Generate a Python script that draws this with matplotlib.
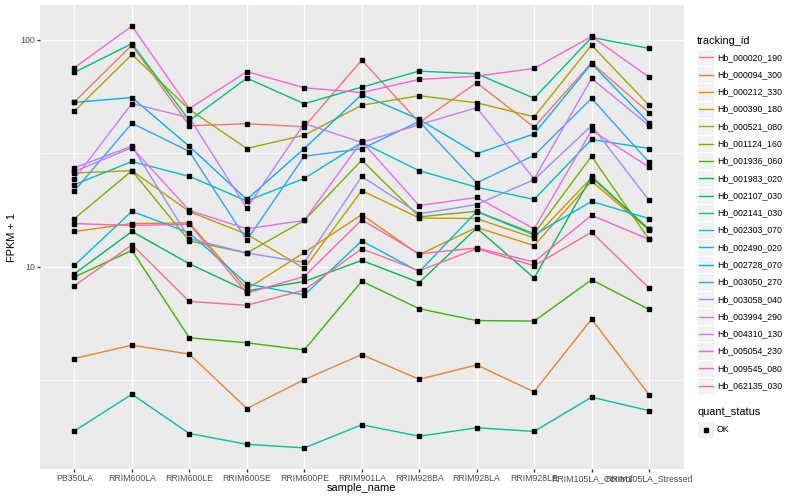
import matplotlib
matplotlib.use("Agg")
import matplotlib.pyplot as plt
import numpy as np
from matplotlib.patches import Rectangle

plt.rcParams['font.family'] = ['Liberation Sans', 'DejaVu Sans']

# samples on the x axis
samples = ["PB350LA", "RRIM600LA", "RRIM600LE", "RRIM600SE", "RRIM600PE", "RRIM901LA",
           "RRIM928BA", "RRIM928LA", "RRIM928LE", "RRIM105LA_Control", "RRIM105LA_Stressed"]

tracking_ids = ["Hb_000020_190", "Hb_000094_300", "Hb_000212_330", "Hb_000390_180",
                "Hb_000521_080", "Hb_001124_160", "Hb_001936_060", "Hb_001983_020",
                "Hb_002107_030", "Hb_002141_030", "Hb_002303_070", "Hb_002490_020",
                "Hb_002728_070", "Hb_003050_270", "Hb_003058_040", "Hb_003994_290",
                "Hb_004310_130", "Hb_005054_230", "Hb_009545_080", "Hb_062135_030"]

# FPKM per sample (plotted as FPKM + 1)
hb_000020_190 = [52.3, 93.8, 40.8, 41.7, 40.4, 80.4, 42.2, 63.7, 40.2, 78.3, 46.7]
hb_000094_300 = [2.94, 3.51, 3.12, 1.37, 2.18, 3.10, 2.19, 2.69, 1.81, 4.88, 1.73]
hb_000212_330 = [13.3, 14.5, 14.6, 6.97, 10.56, 15.97, 10.3, 13.9, 11.4, 22.8, 13.5]
hb_000390_180 = [24.9, 25.5, 16.5, 12.9, 8.83, 20.65, 15.4, 15.3, 12.4, 23.7, 13.6]
hb_000521_080 = [47.5, 85.3, 48.3, 32.2, 37.0, 50.5, 55.7, 51.8, 44.8, 93.8, 50.4]
hb_001124_160 = [15.3, 25.5, 12.0, 10.5, 15.0, 28.5, 15.6, 16.55, 13.0, 29.7, 12.2]
hb_001936_060 = [8.01, 10.8, 3.86, 3.62, 3.30, 7.63, 5.53, 4.79, 4.76, 7.76, 5.48]
hb_001983_020 = [8.31, 13.3, 9.3, 6.83, 7.61, 9.66, 7.52, 13.8, 7.92, 24.0, 13.6]
hb_002107_030 = [70.9, 95.2, 43.1, 66.8, 51.3, 60.9, 71.8, 69.9, 54.3, 101.5, 90.7]
hb_002141_030 = [0.89, 1.74, 0.84, 0.65, 0.59, 1.01, 0.79, 0.95, 0.88, 1.66, 1.32]
hb_002303_070 = [22.0, 28.1, 24.0, 18.5, 23.5, 34.3, 25.5, 21.4, 18.8, 35.4, 32.2]
hb_002490_020 = [9.15, 16.55, 13.1, 7.41, 6.5, 12.0, 8.5, 16.5, 12.8, 18.4, 15.3]
hb_002728_070 = [52.0, 54.7, 32.9, 18.8, 32.2, 56.4, 43.6, 30.5, 37.5, 77.5, 42.1]
hb_003050_270 = [20.6, 41.9, 31.2, 12.1, 29.7, 32.1, 42.7, 22.4, 30.0, 54.2, 27.9]
hb_003058_040 = [26.3, 33.0, 12.3, 10.5, 9.45, 24.0, 16.1, 17.8, 23.2, 40.9, 18.6]
hb_003994_290 = [23.4, 51.4, 44.3, 17.1, 41.8, 34.3, 41.3, 49.2, 23.4, 66.6, 40.9]
hb_004310_130 = [25.3, 32.5, 16.7, 13.7, 15.0, 34.7, 17.6, 19.2, 13.7, 38.9, 26.5]
hb_005054_230 = [74.4, 114.0, 48.8, 71.4, 60.5, 57.6, 65.9, 68.2, 73.8, 102.5, 67.5]
hb_009545_080 = [14.5, 14.2, 14.4, 6.65, 8.06, 15.1, 10.4, 11.1, 9.5, 15.85, 12.2]
hb_062135_030 = [7.24, 11.5, 6.03, 5.76, 6.89, 11.0, 8.6, 11.0, 9.1, 13.2, 7.05]

fpkm_rows = [hb_000020_190, hb_000094_300, hb_000212_330, hb_000390_180, hb_000521_080,
             hb_001124_160, hb_001936_060, hb_001983_020, hb_002107_030, hb_002141_030,
             hb_002303_070, hb_002490_020, hb_002728_070, hb_003050_270, hb_003058_040,
             hb_003994_290, hb_004310_130, hb_005054_230, hb_009545_080, hb_062135_030]

# ggplot default hue palette, 20 levels
palette = ["#F8766D", "#EA8331", "#D89000", "#C09B00", "#A3A500", "#7CAE00", "#39B600",
           "#00BB4E", "#00BF7D", "#00C1A3", "#00BFC4", "#00BAE0", "#00B0F6", "#35A2FF",
           "#9590FF", "#C77CFF", "#E76BF3", "#FA62DB", "#FF62BC", "#FF6C91"]

fig = plt.figure(figsize=(8, 5), dpi=100)
ax = fig.add_axes([0.05, 0.062, 0.8044, 0.928])
ax.set_facecolor("#EBEBEB")

x = np.arange(len(samples))
vals = np.array(fpkm_rows) + 1

for row, col in zip(vals, palette):
    ax.plot(x, row, color=col, lw=1.0, zorder=3)
for row in vals:
    ax.plot(x, row, ls="none", marker="s", ms=2.5, color="black", zorder=4)

ax.set_yscale("log")
lo, hi = np.log10(vals.min()), np.log10(vals.max())
pad = (hi - lo) * 0.05
ax.set_ylim(10 ** (lo - pad), 10 ** (hi + pad))
ax.set_xlim(-0.6, len(samples) - 0.4)

ax.set_yticks([10, 100])
ax.set_yticklabels(["10", "100"])
ax.set_yticks([10 ** 0.5, 10 ** 1.5], minor=True)
ax.yaxis.set_minor_formatter(plt.NullFormatter())
ax.set_xticks(x)
ax.set_xticklabels(samples)

ax.grid(True, which="major", color="white", lw=1.0)
ax.grid(True, which="minor", axis="y", color="white", lw=0.5)
ax.set_axisbelow(True)
for s in ax.spines.values():
    s.set_visible(False)
ax.tick_params(which="major", length=2.0, width=1.0, color="#333333",
               labelsize=6.3, labelcolor="#4D4D4D", pad=1.4)
ax.tick_params(which="minor", length=0)

ax.set_xlabel("sample_name", fontsize=7.9)
ax.set_ylabel("FPKM + 1", fontsize=7.9)
ax.xaxis.set_label_coords(0.5, -0.031)
ax.yaxis.set_label_coords(-0.035, 0.5)

# legend, drawn in pixel space
lg = fig.add_axes([0, 0, 1, 1], facecolor="none")
lg.set_xlim(0, 800)
lg.set_ylim(500, 0)
lg.axis("off")

key = 17.28
lg.text(697, 40.7, "tracking_id", fontsize=7.9, va="center", ha="left")
for i, (name, col) in enumerate(zip(tracking_ids, palette)):
    cy = 57.3 + key * i
    lg.add_patch(Rectangle((697, cy - key / 2), key, key, facecolor="#F2F2F2",
                           edgecolor="white", lw=0.8))
    lg.plot([698.7, 712.6], [cy, cy], color=col, lw=1.0)
    lg.text(717, cy, name, fontsize=6.3, va="center", ha="left")

lg.text(697, 412.3, "quant_status", fontsize=7.9, va="center", ha="left")
cy = 429.5
lg.add_patch(Rectangle((697, cy - key / 2), key, key, facecolor="#F2F2F2",
                       edgecolor="white", lw=0.8))
lg.plot([697 + key / 2], [cy], marker="s", ms=2.5, color="black")
lg.text(717, cy, "OK", fontsize=6.3, va="center", ha="left")

fig.savefig("out.png", dpi=100)
